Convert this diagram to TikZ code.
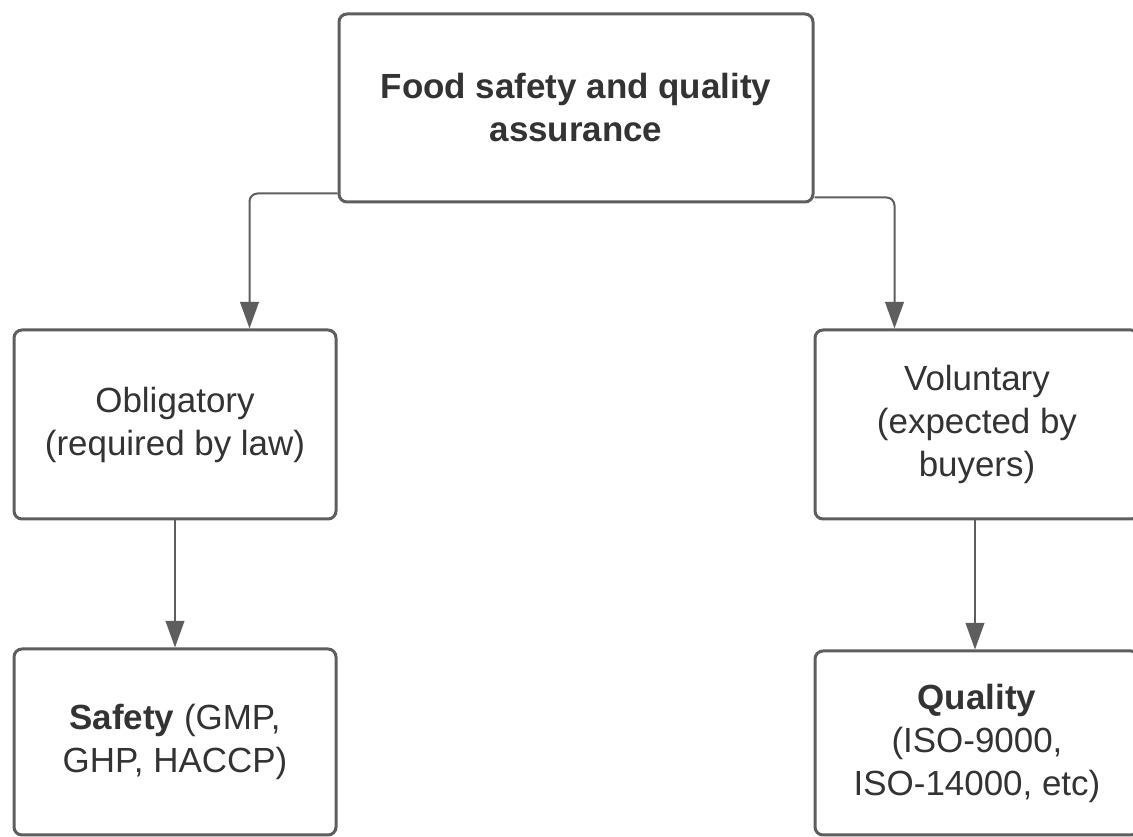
\documentclass[tikz,border=0pt]{standalone}
\usepackage{fontspec}
\setmainfont{Liberation Sans}
\usetikzlibrary{arrows.meta,calc}
\definecolor{edgegray}{HTML}{5E5E5E}
\definecolor{textgray}{HTML}{333333}
\tikzset{
  box/.style={draw=edgegray, line width=2.25pt, rounded corners=6pt, fill=white,
    inner sep=0pt, align=center, text=textgray,
    font=\fontsize{26.2pt}{32.25pt}\selectfont},
  conn/.style={draw=edgegray, line width=1.5pt, rounded corners=6pt,
    -{Triangle[width=14pt,length=20pt]}}
}
\begin{document}
\begin{tikzpicture}[x=0.75pt,y=-0.75pt]
  \useasboundingbox (0,0) rectangle (1133,837);
  \clip (0,0) rectangle (1133,837);
  \fill[white] (0,0) rectangle (1133,837);

  % boxes
  \node[box, minimum width=474*0.75pt, minimum height=188*0.75pt] (top) at (576,108)
    {\textbf{Food safety and quality}\\\textbf{assurance}};
  \node[box, minimum width=322*0.75pt, minimum height=189*0.75pt] (obl) at (175,424.5)
    {Obligatory\\(required by law)};
  \node[box, minimum width=324*0.75pt, minimum height=189*0.75pt] (vol) at (977,424.5)
    {Voluntary\\(expected by\\buyers)};
  \node[box, minimum width=322*0.75pt, minimum height=186*0.75pt] (safe) at (175,742)
    {\textbf{Safety} (GMP,\\GHP, HACCP)};
  \node[box, minimum width=324*0.75pt, minimum height=184*0.75pt] (qual) at (977,743)
    {\textbf{Quality}\\(ISO-9000,\\ISO-14000, etc)};

  % connectors
  \draw[conn] ($(top.south west)+(0,-10)$) -| ($(obl.north west)+(237,0)$);
  \draw[conn] ($(top.south east)+(0,-6)$) -| ($(vol.north west)+(81,0)$);
  \draw[conn] (obl) -- (safe);
  \draw[conn] ($(vol.south)+(-2,0)$) -- ($(qual.north)+(-2,0)$);
\end{tikzpicture}
\end{document}
